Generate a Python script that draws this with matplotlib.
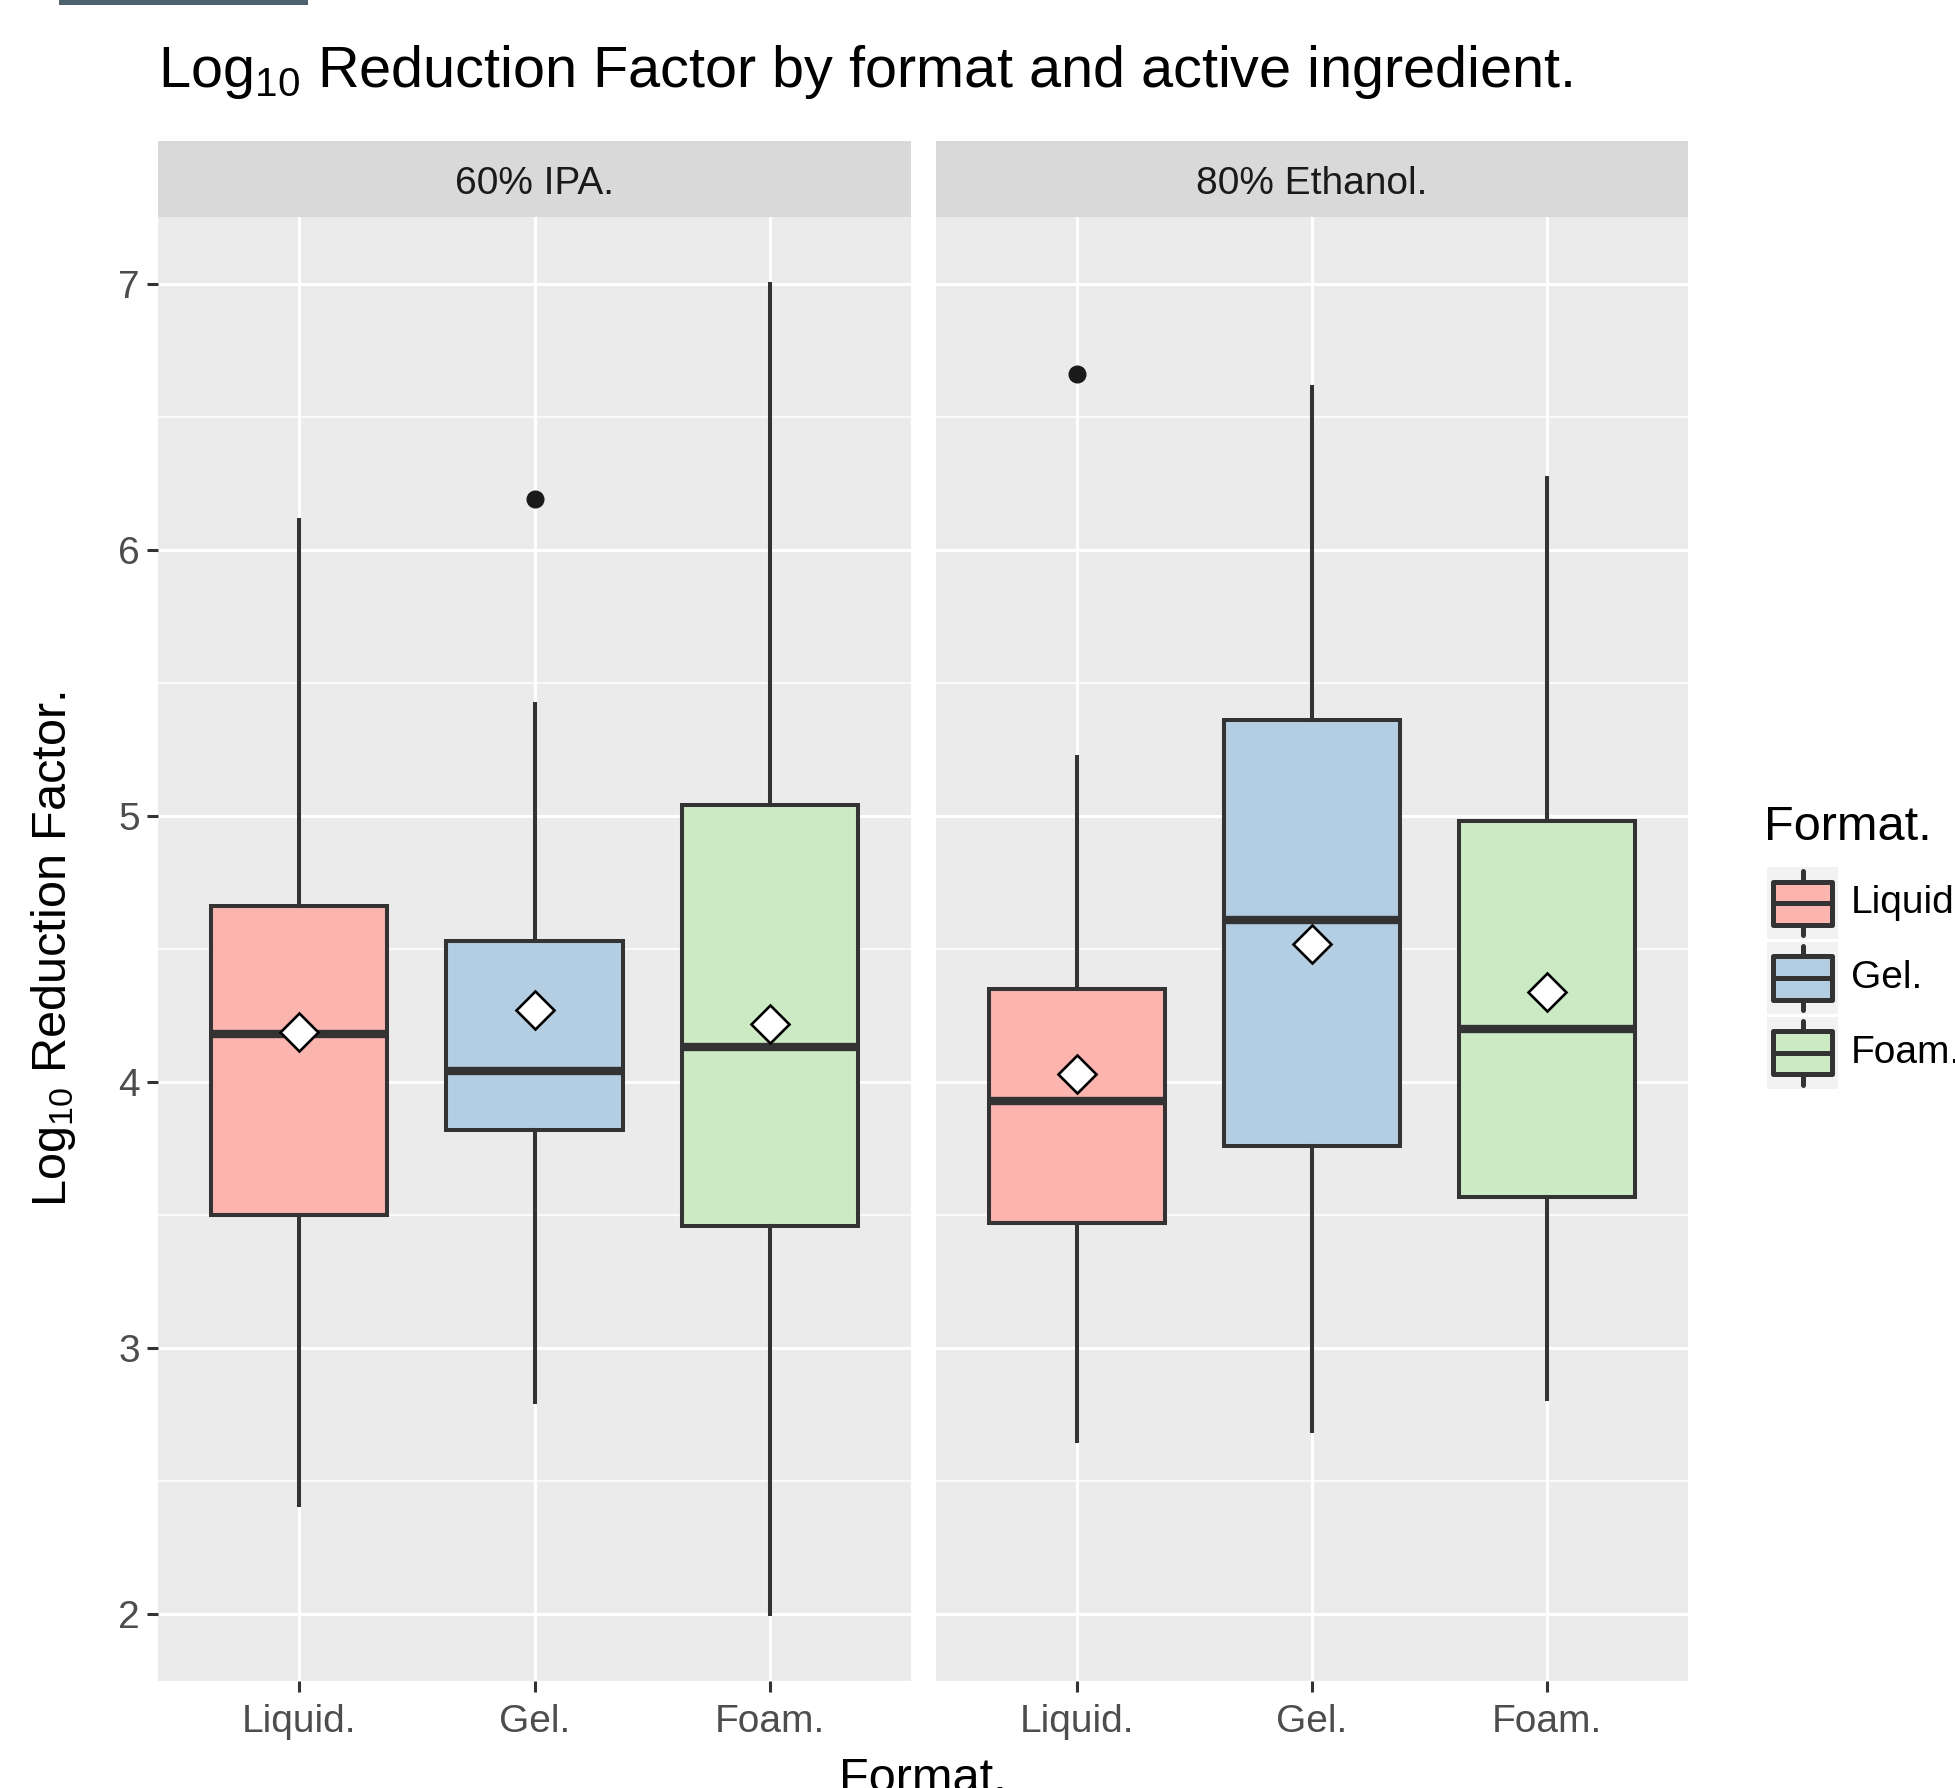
"""Log10 reduction factor boxplots, faceted by active ingredient."""
import matplotlib
matplotlib.use("Agg")
import matplotlib.pyplot as plt
from matplotlib.patches import Rectangle
from matplotlib.ticker import MultipleLocator

plt.rcParams['font.family'] = ['Liberation Sans', 'DejaVu Sans']
plt.rcParams['mathtext.default'] = 'regular'

# Data
formats = ['Liquid.', 'Gel.', 'Foam.']
panels = ['60% IPA.', '80% Ethanol.']
colors = ['#fbb4ae', '#b3cde3', '#ccebc5']

ipa_whislo = [2.41, 2.80, 2.00]
ipa_q1 = [3.50, 3.82, 3.46]
ipa_med = [4.18, 4.04, 4.13]
ipa_q3 = [4.66, 4.53, 5.04]
ipa_whishi = [6.11, 5.42, 7.00]
ipa_mean = [4.19, 4.27, 4.22]
ipa_fliers = [[], [6.19], []]

eth_whislo = [2.65, 2.69, 2.81]
eth_q1 = [3.47, 3.76, 3.57]
eth_med = [3.93, 4.61, 4.20]
eth_q3 = [4.35, 5.36, 4.98]
eth_whishi = [5.22, 6.61, 6.27]
eth_mean = [4.03, 4.52, 4.34]
eth_fliers = [[6.66], [], []]

W, H = 1955, 1788
DARK = '#333333'


def fx(px):
    return px / W


def fy(py):
    return 1 - py / H


def make_stats(lo, q1, med, q3, hi, mean, fliers):
    return [dict(whislo=lo[i], q1=q1[i], med=med[i], q3=q3[i], whishi=hi[i],
                 mean=mean[i], fliers=fliers[i]) for i in range(len(lo))]


def draw_panel(ax, stats, title, show_y):
    ax.set_facecolor('#ebebeb')
    for s in ax.spines.values():
        s.set_visible(False)
    ax.set_axisbelow(True)
    ax.yaxis.set_major_locator(MultipleLocator(1))
    ax.yaxis.set_minor_locator(MultipleLocator(0.5))
    ax.grid(True, which='major', axis='both', color='white', linewidth=2.2)
    ax.grid(True, which='minor', axis='y', color='white', linewidth=1.1)

    bp = ax.bxp(stats, positions=[1, 2, 3], widths=0.75, patch_artist=True,
                showmeans=True, showcaps=False,
                boxprops=dict(edgecolor=DARK, linewidth=2.9),
                whiskerprops=dict(color=DARK, linewidth=2.9),
                medianprops=dict(color=DARK, linewidth=6, solid_capstyle='butt'),
                meanprops=dict(marker='D', markerfacecolor='white',
                               markeredgecolor='black', markersize=19.5,
                               markeredgewidth=1.9),
                flierprops=dict(marker='o', markerfacecolor='#1a1a1a',
                                markeredgecolor='#1a1a1a', markersize=12))
    for patch, c in zip(bp['boxes'], colors):
        patch.set_facecolor(c)

    ax.set_xlim(0.4, 3.6)
    ax.set_ylim(1.75, 7.25)
    ax.set_xticks([1, 2, 3])
    ax.set_xticklabels(formats)
    ax.tick_params(axis='both', which='major', length=8, width=2.2,
                   color=DARK, labelsize=28, labelcolor='#4d4d4d', pad=5)
    ax.tick_params(axis='x', which='major', pad=8.5)
    ax.tick_params(axis='y', which='minor', length=0)
    if not show_y:
        ax.tick_params(axis='y', which='both', left=False, labelleft=False)

    # facet strip
    bb = ax.get_position()
    sax = ax.figure.add_axes([bb.x0, fy(217), bb.width, fy(141) - fy(217)])
    sax.set_facecolor('#d9d9d9')
    sax.set_xticks([])
    sax.set_yticks([])
    for s in sax.spines.values():
        s.set_visible(False)
    sax.text(0.5, 0.44, title, ha='center', va='center', fontsize=28,
             color='#1a1a1a', transform=sax.transAxes)


def main():
    fig = plt.figure(figsize=(W / 100, H / 100), dpi=100)

    ax1 = fig.add_axes([fx(158), fy(1681), fx(911 - 158), fy(217) - fy(1681)])
    ax2 = fig.add_axes([fx(936), fy(1681), fx(1688 - 936), fy(217) - fy(1681)])

    draw_panel(ax1, make_stats(ipa_whislo, ipa_q1, ipa_med, ipa_q3, ipa_whishi,
                               ipa_mean, ipa_fliers), panels[0], True)
    draw_panel(ax2, make_stats(eth_whislo, eth_q1, eth_med, eth_q3, eth_whishi,
                               eth_mean, eth_fliers), panels[1], False)

    # titles
    fig.text(fx(158), fy(87), r'Log$_{\mathregular{10}}$ Reduction Factor by format and active ingredient.',
             fontsize=41.5, ha='left', va='baseline')
    fig.text(fx(923), fy(1792), 'Format.', fontsize=35, ha='center', va='baseline')
    fig.text(fx(54), fy(949), r'Log$_{\mathregular{10}}$ Reduction Factor.', fontsize=35,
             rotation=90, ha='center', va='center')

    # cut-off element at top left
    fig.patches.append(Rectangle((fx(59), fy(5)), fx(249), 5 / H,
                                 transform=fig.transFigure, facecolor='#4f6270',
                                 edgecolor='none'))

    # legend
    fig.text(fx(1764), fy(827), 'Format.', fontsize=35, ha='left', va='center')
    lax = fig.add_axes([fx(1767), fy(1090), fx(71), fy(866) - fy(1090)])
    lax.set_xlim(0, 1)
    lax.set_ylim(0, 3)
    lax.axis('off')
    for i, (name, c) in enumerate(zip(formats, colors)):
        yb = 2 - i
        lax.add_patch(Rectangle((0, yb + 0.02), 1, 0.96, facecolor='#f2f2f2',
                                edgecolor='none'))
        lax.plot([0.5, 0.5], [yb + 0.07, yb + 0.93], color=DARK, lw=3.6,
                 solid_capstyle='round')
        lax.add_patch(Rectangle((0.09, yb + 0.21), 0.82, 0.58, facecolor=c,
                                edgecolor=DARK, linewidth=3.6, joinstyle='round',
                                zorder=3))
        lax.plot([0.09, 0.91], [yb + 0.5, yb + 0.5], color=DARK, lw=3.6, zorder=4)
        fig.text(fx(1851), lax.transData.transform((0, yb + 0.5))[1] / H,
                 name, fontsize=28, ha='left', va='center')

    fig.savefig('out.png', dpi=100)


if __name__ == '__main__':
    main()
